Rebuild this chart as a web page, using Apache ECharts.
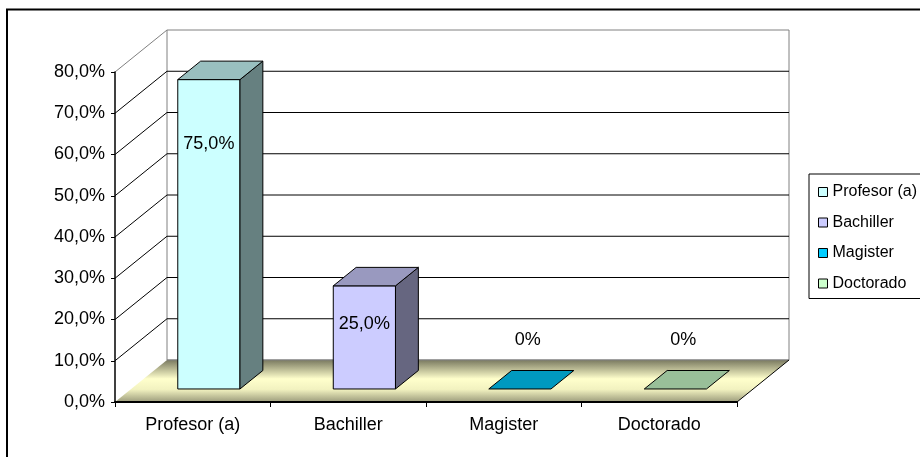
<!DOCTYPE html>
<html>
<head>
<meta charset="utf-8">
<script src="https://cdn.jsdelivr.net/npm/echarts@6/dist/echarts.min.js"></script>
<style>
  html, body { margin: 0; padding: 0; background: #fff; }
  #chart { width: 920px; height: 457px; }
</style>
</head>
<body>
<div id="chart"></div>
<script>
// datos
const categories = ['Profesor (a)', 'Bachiller', 'Magister', 'Doctorado'];
const shares = [0.75, 0.25, 0, 0];
const yMin = 0, yMax = 0.8, yStep = 0.1;

// estilo
const barColors = ['#ccffff', '#ccccff', '#00ccff', '#ccffcc'];
const FONT = 'Liberation Sans, Arial, sans-serif';
const DEPTH_X = 52, DEPTH_Y = -42;      // profundidad del piso / pared
const FRONT = 0.31, BACK = 0.75;        // posicion de la barra en la profundidad
const BAR_RATIO = 0.4;
const LABEL_NUDGE = [[0, 64], [0, 38], [8, -49], [8, -49]];

function shade(hex, k) {
  const n = parseInt(hex.slice(1), 16);
  const r = Math.round(((n >> 16) & 255) * k);
  const g = Math.round(((n >> 8) & 255) * k);
  const b = Math.round((n & 255) * k);
  return 'rgb(' + r + ',' + g + ',' + b + ')';
}

function pct(v) {
  return v === 0 ? '0%' : (v * 100).toFixed(1).replace('.', ',') + '%';
}

/* paredes, lineas de division y piso */
function renderWalls(params, api) {
  const cs = params.coordSys;
  const L = cs.x, R = cs.x + cs.width, T = cs.y, B = cs.y + cs.height;
  const dx = DEPTH_X, dy = DEPTH_Y;
  const kids = [];
  kids.push({ type: 'polygon', shape: { points: [[L, B], [L, T], [L + dx, T + dy], [L + dx, B + dy]] },
    style: { fill: '#fff', stroke: null } });
  kids.push({ type: 'rect', shape: { x: L + dx, y: T + dy, width: R - L, height: B - T },
    style: { fill: '#fff', stroke: '#808080', lineWidth: 1 } });
  for (let v = yMin + yStep; v < yMax - 1e-9; v += yStep) {
    const y = api.coord([0, v])[1];
    kids.push({ type: 'polyline', shape: { points: [[L, y], [L + dx, y + dy], [R + dx, y + dy]] },
      style: { stroke: '#000', lineWidth: 1, fill: null } });
  }
  kids.push({ type: 'line', shape: { x1: L, y1: T, x2: L + dx, y2: T + dy },
    style: { stroke: '#808080', lineWidth: 1 } });
  kids.push({ type: 'polygon', shape: { points: [[L, B], [R, B], [R + dx, B + dy], [L + dx, B + dy]] },
    style: {
      fill: { type: 'linear', x: 0, y: 0, x2: 0, y2: 1, colorStops: [
        { offset: 0, color: '#7a7a60' },
        { offset: 0.45, color: '#ffffcc' },
        { offset: 0.7, color: '#f2f2c0' },
        { offset: 1, color: '#9c9c7c' }
      ] },
      stroke: null
    } });
  kids.push({ type: 'line', shape: { x1: L + dx, y1: B + dy, x2: R + dx, y2: B + dy },
    style: { stroke: '#808080', lineWidth: 1 } });
  kids.push({ type: 'line', shape: { x1: R, y1: B, x2: R + dx, y2: B + dy },
    style: { stroke: '#000', lineWidth: 1 } });
  return { type: 'group', children: kids };
}

/* barra 3D */
function renderBar(params, api) {
  const i = api.value(0), v = api.value(1);
  const cs = params.coordSys;
  const base = api.coord([i, 0]);
  const top = api.coord([i, v]);
  const bw = cs.width / categories.length * BAR_RATIO;
  const fx = DEPTH_X * FRONT, fy = DEPTH_Y * FRONT;
  const dx = DEPTH_X * (BACK - FRONT), dy = DEPTH_Y * (BACK - FRONT);
  const x0 = base[0] - bw / 2 + fx, x1 = x0 + bw;
  const yb = base[1] + fy, yt = top[1] + fy;
  const col = barColors[i];
  const edge = { stroke: '#000', lineWidth: 1, lineJoin: 'round' };
  const kids = [];
  if (yb - yt > 0.5) {
    kids.push({ type: 'rect', shape: { x: x0, y: yt, width: bw, height: yb - yt },
      style: Object.assign({ fill: col }, edge) });
    kids.push({ type: 'polygon', shape: { points: [[x1, yt], [x1 + dx, yt + dy], [x1 + dx, yb + dy], [x1, yb]] },
      style: Object.assign({ fill: shade(col, 0.5) }, edge) });
  }
  kids.push({ type: 'polygon', shape: { points: [[x0, yt], [x1, yt], [x1 + dx, yt + dy], [x0 + dx, yt + dy]] },
    style: Object.assign({ fill: shade(col, 0.75) }, edge) });
  const nudge = LABEL_NUDGE[i];
  kids.push({ type: 'text', x: (x0 + x1) / 2 + nudge[0], y: yt + nudge[1],
    style: { text: pct(v), font: '18px ' + FONT, fill: '#000', align: 'center', verticalAlign: 'middle' } });
  return { type: 'group', children: kids };
}

const myChart = echarts.init(document.getElementById('chart'));

const series = [{
  name: 'walls', type: 'custom', renderItem: renderWalls, data: [[0, 0]], z: 1, silent: true
}];
categories.forEach(function (c, i) {
  series.push({
    name: c, type: 'custom', renderItem: renderBar, z: 3, silent: true,
    itemStyle: { color: barColors[i] },
    data: [[i, shares[i]]]
  });
});

const option = {
  backgroundColor: '#ffffff',
  animation: false,
  grid: { left: 115, top: 72, width: 622, height: 330, outerBoundsMode: 'none' },
  xAxis: {
    type: 'category', data: categories, z: 5,
    axisLine: { lineStyle: { color: '#000', width: 2 } },
    axisTick: { show: true, length: 5, lineStyle: { color: '#000' } },
    axisLabel: { color: '#000', fontSize: 18, fontFamily: FONT, margin: 14 },
    splitLine: { show: false }
  },
  yAxis: {
    type: 'value', min: yMin, max: yMax, interval: yStep, z: 5,
    axisLine: { show: true, lineStyle: { color: '#000', width: 1.5 } },
    axisTick: { show: true, length: 4, lineStyle: { color: '#000' } },
    axisLabel: { color: '#000', fontSize: 18, fontFamily: FONT, margin: 10, formatter: function (v) {
      return (v * 100).toFixed(1).replace('.', ',') + '%';
    } },
    splitLine: { show: false }
  },
  legend: {
    data: categories,
    orient: 'vertical',
    left: 809, top: 174,
    padding: [9, 12, 6, 9],
    itemGap: 12.5,
    itemWidth: 9, itemHeight: 9,
    icon: 'rect',
    itemStyle: { borderColor: '#000', borderWidth: 1 },
    backgroundColor: '#fff',
    borderColor: '#000', borderWidth: 1,
    textStyle: { color: '#000', fontSize: 16, fontFamily: FONT, lineHeight: 18 },
    selectedMode: false
  },
  graphic: [{
    type: 'rect', z: 100, silent: true,
    shape: { x: 7, y: 9.5, width: 940, height: 470 },
    style: { fill: null, stroke: '#000', lineWidth: 2 }
  }],
  series: series
};

myChart.setOption(option);
</script>
</body>
</html>
